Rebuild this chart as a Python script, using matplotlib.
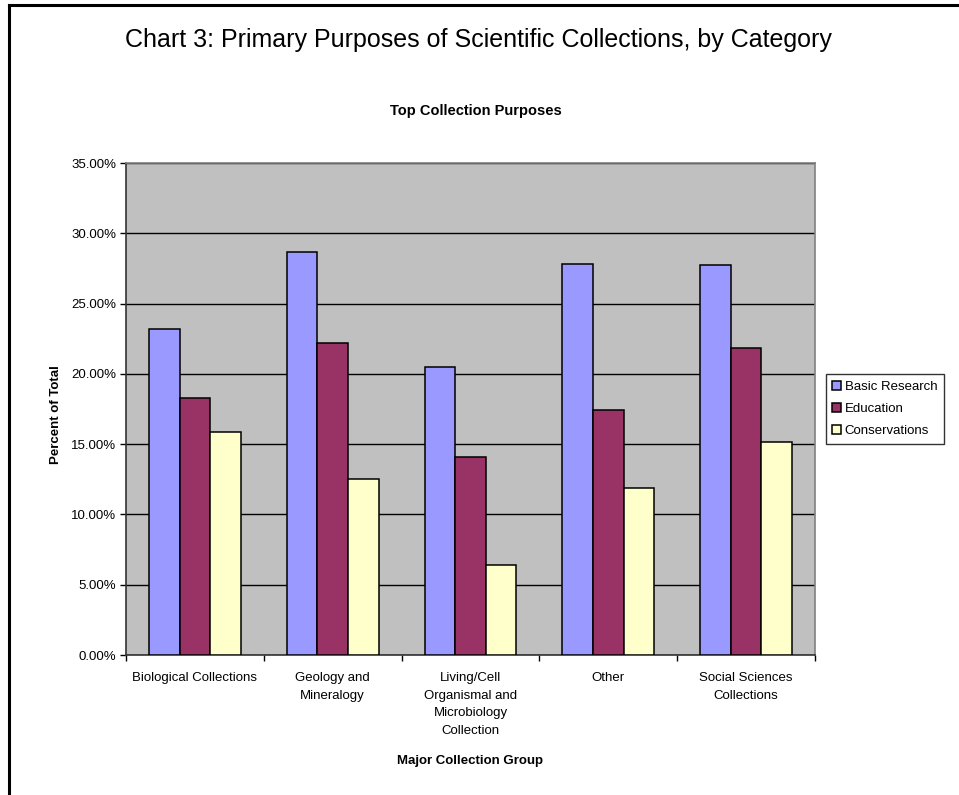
import matplotlib
matplotlib.use("Agg")
import matplotlib.pyplot as plt
import numpy as np
from matplotlib.lines import Line2D

plt.rcParams['font.family'] = ['Liberation Sans', 'DejaVu Sans']

categories = ["Biological Collections", "Geology and\nMineralogy",
              "Living/Cell\nOrganismal and\nMicrobiology\nCollection",
              "Other", "Social Sciences\nCollections"]
series_names = ["Basic Research", "Education", "Conservations"]
basic_research = [23.21, 28.68, 20.48, 27.79, 27.74]
education = [18.30, 22.19, 14.08, 17.43, 21.86]
conservations = [15.86, 12.54, 6.40, 11.88, 15.13]
colors = ["#9999FF", "#993366", "#FFFFCC"]
yticks = [0, 5, 10, 15, 20, 25, 30, 35]

W, H = 959, 795
fig = plt.figure(figsize=(W / 100, H / 100), dpi=100)

# figure border (top and left lines visible)
fig.add_artist(Line2D([9 / W, 1.0], [1 - 4.5 / H, 1 - 4.5 / H], color='black', lw=2.2,
                      transform=fig.transFigure))
fig.add_artist(Line2D([9 / W, 9 / W], [1 - 4.5 / H, 0.0], color='black', lw=2.2,
                      transform=fig.transFigure))

ax = fig.add_axes([126 / W, 1 - 655 / H, (815 - 126) / W, (655 - 163) / H])
ax.set_facecolor('#C0C0C0')

n = len(categories)
bw = 1 / 4.5
x = np.arange(n)
for i, (vals, name) in enumerate(zip([basic_research, education, conservations], series_names)):
    ax.bar(x + (i - 1) * bw, vals, width=bw, color=colors[i], edgecolor='black',
           linewidth=1.1, label=name, zorder=3)

ax.set_xlim(-0.5, n - 0.5)
ax.set_ylim(0, 35)
ax.set_yticks(yticks)
ax.set_yticklabels([f"{v:.2f}%" for v in yticks])
ax.yaxis.grid(True, color='black', linewidth=1.0, zorder=1)
ax.set_axisbelow(True)

ax.set_xticks(np.arange(n + 1) - 0.5)
ax.set_xticklabels([])
ax.set_xticks(x, minor=True)
ax.set_xticklabels(categories, minor=True, fontsize=9.5, linespacing=1.65, va='top')
ax.tick_params(axis='x', which='minor', length=0, pad=12)
ax.tick_params(axis='x', which='major', length=4, width=1, direction='out')
ax.tick_params(axis='y', length=4, width=1, direction='out', labelsize=9.5, pad=3)

for s in ['top', 'right']:
    ax.spines[s].set_color('#808080')
    ax.spines[s].set_linewidth(1.2)
for s in ['left', 'bottom']:
    ax.spines[s].set_color('#333333')
    ax.spines[s].set_linewidth(1.2)

fig.text(56 / W, 1 - 415 / H, "Percent of Total", rotation=90, fontsize=9.5,
         fontweight='bold', ha='center', va='center')
fig.text(470 / W, 1 - 761 / H, "Major Collection Group", fontsize=9.5,
         fontweight='bold', ha='center', va='center')

fig.text(478 / W, 1 - 40 / H, "Chart 3: Primary Purposes of Scientific Collections, by Category",
         fontsize=18.0, ha='center', va='center')
fig.text(476 / W, 1 - 111 / H, "Top Collection Purposes", fontsize=10.5,
         fontweight='bold', ha='center', va='center')

leg = fig.legend(loc='upper left', bbox_to_anchor=(825.5 / W, 1 - 374 / H),
                 fontsize=9.5, frameon=True, fancybox=False, shadow=False,
                 handlelength=0.7, handleheight=0.7, handletextpad=0.25,
                 borderpad=0.5, labelspacing=0.76, borderaxespad=0)
leg.get_frame().set_edgecolor('black')
leg.get_frame().set_linewidth(1.0)

fig.savefig("out.png", dpi=100)
